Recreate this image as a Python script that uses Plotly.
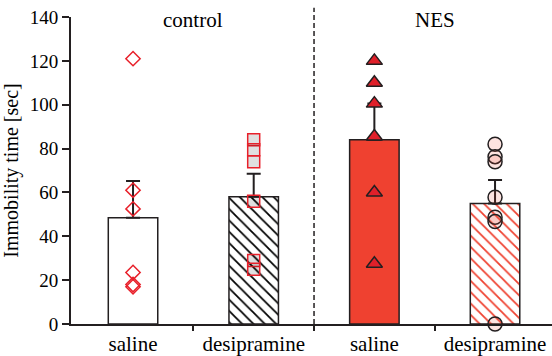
import plotly.graph_objects as go

# Groups and treatments
categories = ["saline", "desipramine", "saline", "desipramine"]
groups = ["control", "NES"]

# Group means and SEM (upward error only)
means = [48.5, 58.0, 84.0, 55.0]
sems = [16.7, 10.5, 16.5, 10.7]

# Individual animals per bar
pts_ctrl_saline = [121.0, 61.0, 52.5, 23.5, 18.0, 17.0]
pts_ctrl_desi = [84.0, 79.5, 74.0, 56.0, 29.0, 25.0]
pts_nes_saline = [120.0, 110.0, 100.5, 85.5, 60.0, 27.5]
pts_nes_desi = [82.0, 76.3, 74.0, 57.8, 48.7, 46.7, 0.0]

INK = "#231f20"
RED = "#ef4130"
FONT = "Liberation Serif"

xpos = list(range(len(categories)))

fig = go.Figure()

# Bars with individual styling
bar_styles = [
    dict(color="white", pattern=dict(shape="")),
    dict(color="white", pattern=dict(shape="\\", fgcolor="black", bgcolor="white",
                                     fgopacity=1, size=8, solidity=0.22)),
    dict(color=RED, pattern=dict(shape="")),
    dict(color="white", pattern=dict(shape="\\", fgcolor=RED, bgcolor="white",
                                     fgopacity=1, size=8, solidity=0.22)),
]
for i, (x, m, s) in enumerate(zip(xpos, means, sems)):
    st = bar_styles[i]
    fig.add_trace(go.Bar(
        x=[x], y=[m], width=0.41,
        marker=dict(color=st["color"], pattern=st["pattern"],
                    line=dict(color=INK, width=1.5)),
        error_y=dict(type="data", symmetric=False, array=[s], arrayminus=[0],
                     color=INK, thickness=2, width=7),
        showlegend=False, hoverinfo="skip",
    ))

# Scatter overlays
point_sets = [
    (pts_ctrl_saline, dict(symbol="diamond", size=11, color="rgba(0,0,0,0)",
                           line=dict(color="#e8202a", width=1.5))),
    (pts_ctrl_desi, dict(symbol="square", size=12, color="rgba(0,0,0,0.12)",
                         line=dict(color="#e8202a", width=1.5))),
    (pts_nes_saline, dict(symbol="triangle-up", size=14, color="#e0202a",
                          line=dict(color=INK, width=1.5))),
    (pts_nes_desi, dict(symbol="circle", size=14, color="rgba(239,65,48,0.15)",
                        line=dict(color=INK, width=1.5))),
]
for x, (vals, mk) in zip(xpos, point_sets):
    fig.add_trace(go.Scatter(
        x=[x] * len(vals), y=vals, mode="markers", marker=mk,
        cliponaxis=False, showlegend=False, hoverinfo="skip",
    ))

# Divider between groups
fig.add_shape(type="line", x0=1.5, x1=1.5, xref="x", y0=0, y1=1.03, yref="paper",
              line=dict(color=INK, width=1.5, dash="5px,3px"))

# Group labels
for gx, g in zip([0.5, 2.5], groups):
    fig.add_annotation(x=gx, y=138.6, xref="x", yref="y", text=g, showarrow=False,
                       font=dict(family=FONT, size=21, color="black"), yanchor="middle")

fig.update_layout(
    width=552, height=356,
    margin=dict(l=71, r=0, t=17, b=32),
    plot_bgcolor="white", paper_bgcolor="white",
    barmode="overlay",
    xaxis=dict(
        range=[-0.514, 3.472], tickvals=xpos, ticktext=categories,
        ticks="", showline=True, linecolor=INK, linewidth=2,
        showgrid=False, zeroline=False,
        tickfont=dict(family=FONT, size=21, color="black"),
        minor=dict(tickvals=[0.5, 1.5, 2.5], ticks="outside", ticklen=5,
                   tickwidth=2, tickcolor=INK, showgrid=False),
    ),
    yaxis=dict(
        range=[0, 140], tickvals=[0, 20, 40, 60, 80, 100, 120, 140],
        ticks="outside", ticklen=7, tickwidth=2, tickcolor=INK,
        showline=True, linecolor=INK, linewidth=2,
        showgrid=False, zeroline=False,
        tickfont=dict(family=FONT, size=19, color="black"),
        title=dict(text="Immobility time [sec]",
                   font=dict(family=FONT, size=20, color="black"), standoff=8),
    ),
)

fig.write_html("out.html")
